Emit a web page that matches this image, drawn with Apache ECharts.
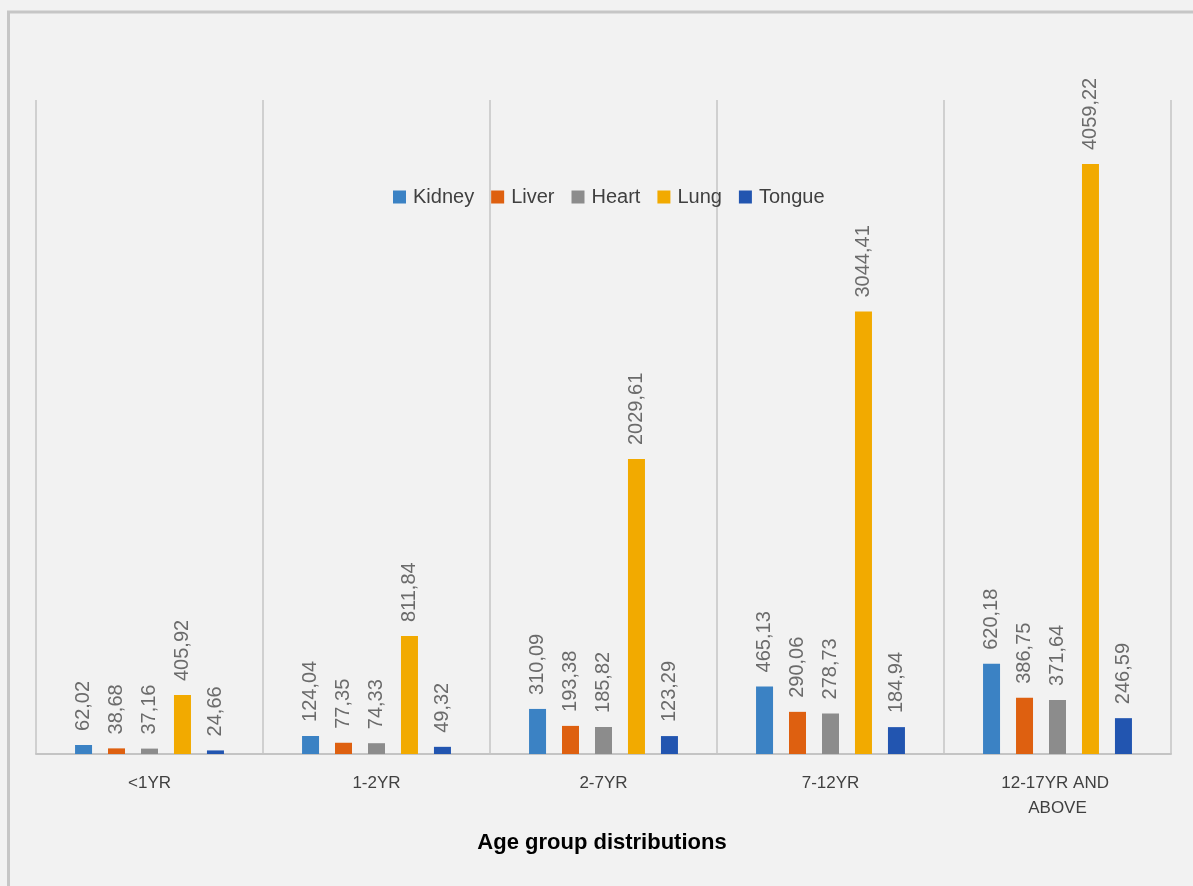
<!DOCTYPE html>
<html>
<head>
<meta charset="utf-8">
<script src="https://cdn.jsdelivr.net/npm/echarts@6/dist/echarts.min.js"></script>
<style>
html,body{margin:0;padding:0;background:#f2f2f2;}
#c{width:1193px;height:886px;}
</style>
</head>
<body>
<div id="c"></div>
<script>
var categories = ['<1YR', '1-2YR', '2-7YR', '7-12YR', '12-17YR AND ABOVE'];
var seriesNames = ['Kidney', 'Liver', 'Heart', 'Lung', 'Tongue'];
var kidney = [62.02, 124.04, 310.09, 465.13, 620.18];
var liver = [38.68, 77.35, 193.38, 290.06, 386.75];
var heart = [37.16, 74.33, 185.82, 278.73, 371.64];
var lung = [405.92, 811.84, 2029.61, 3044.41, 4059.22];
var tongue = [24.66, 49.32, 123.29, 184.94, 246.59];
var colors = ['#3b82c4', '#de6010', '#8c8c8c', '#f2aa00', '#2255b0'];
var axisTitle = 'Age group distributions';

var dataSets = [kidney, liver, heart, lung, tongue];
var chart = echarts.init(document.getElementById('c'), null, {renderer: 'canvas'});
var FONT = 'Liberation Sans, Arial, sans-serif';

var series = dataSets.map(function (d, i) {
  return {
    name: seriesNames[i],
    type: 'bar',
    data: d,
    barWidth: 17,
    barGap: '94%',
    itemStyle: {color: colors[i]},
    label: {
      show: true,
      position: 'top',
      rotate: 90,
      align: 'left',
      verticalAlign: 'middle',
      distance: 14,
      color: '#6b6b6b',
      fontSize: 20,
      fontFamily: FONT,
      formatter: function (p) { return p.value.toFixed(2).replace('.', ','); }
    }
  };
});

chart.setOption({
  backgroundColor: '#f2f2f2',
  animation: false,
  color: colors,
  legend: {
    data: seriesNames,
    left: 388,
    top: 182,
    icon: 'rect',
    itemWidth: 13,
    itemHeight: 13,
    itemGap: 17,
    textStyle: {fontSize: 20, color: '#404040', fontFamily: FONT, padding: [0, 0, 0, 2]}
  },
  grid: {left: 36, right: 22, top: 100, bottom: 132, containLabel: false},
  xAxis: {
    type: 'category',
    data: categories,
    boundaryGap: true,
    axisLine: {show: true, lineStyle: {color: '#c4c4c4', width: 2}},
    axisTick: {show: false},
    splitLine: {show: true, lineStyle: {color: '#c4c4c4', width: 1.5}},
    axisLabel: {
      margin: 17,
      color: '#404040',
      fontSize: 17,
      lineHeight: 25,
      fontFamily: FONT,
      width: 130,
      overflow: 'break',
      interval: 0
    }
  },
  yAxis: {
    type: 'value',
    min: 0,
    max: 4500,
    show: false,
    splitLine: {show: false}
  },
  graphic: [{
    type: 'rect',
    shape: {x: 8.5, y: 12, width: 1400, height: 1100},
    style: {fill: 'none', stroke: '#c6c6c6', lineWidth: 3},
    silent: true,
    z: 100
  }, {
    type: 'text',
    x: 602,
    y: 843,
    style: {
      text: axisTitle,
      fill: '#000',
      font: 'bold 22px ' + FONT,
      textAlign: 'center',
      textVerticalAlign: 'middle'
    },
    silent: true
  }],
  series: series
});
</script>
</body>
</html>
